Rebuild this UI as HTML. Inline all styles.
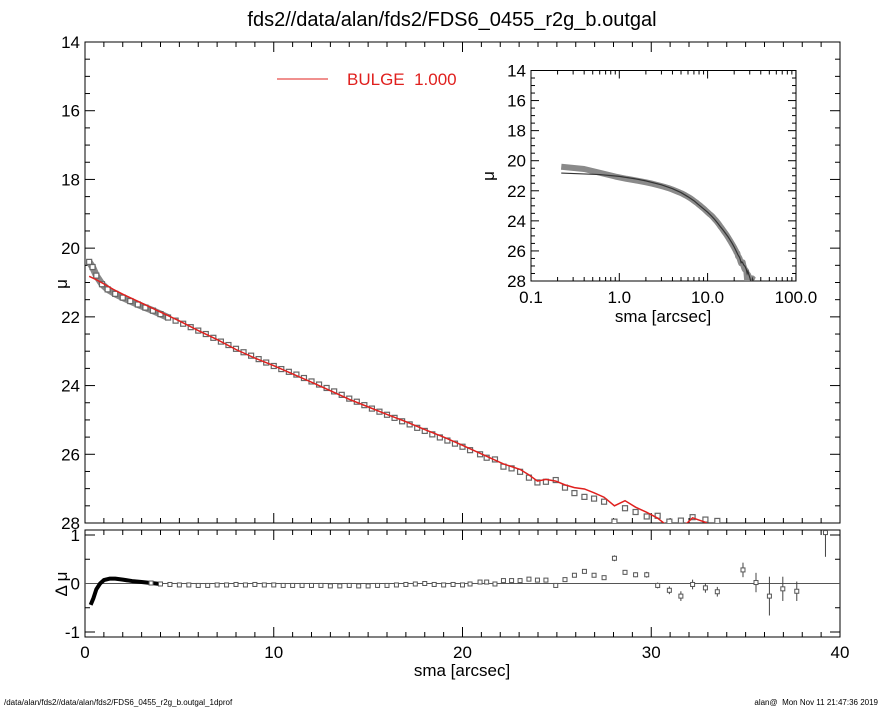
<!DOCTYPE html>
<html><head><meta charset="utf-8"><style>
body{margin:0;background:#fff;}
svg{display:block;font-family:"Liberation Sans",sans-serif;}
</style></head><body>
<svg id="c" width="885" height="708" viewBox="0 0 885 708">
<defs>
<clipPath id="mainclip"><rect x="85" y="42" width="755" height="481"/></clipPath>
<clipPath id="resclip"><rect x="85" y="530" width="755" height="107"/></clipPath>
<clipPath id="insclip"><rect x="531" y="70.5" width="265" height="210.5"/></clipPath>
</defs>
<rect width="885" height="708" fill="#fff"/>
<text x="452" y="26" font-size="20" text-anchor="middle">fds2//data/alan/fds2/FDS6_0455_r2g_b.outgal</text>
<g id="main"></g>
<g id="res"></g>
<g id="ins"></g>
<line x1="277" y1="79" x2="328" y2="79" stroke="#e0201e" stroke-width="1"/>
<text x="347" y="85" font-size="17" fill="#e0201e" style="white-space:pre">BULGE  1.000</text>
<text x="4" y="705" font-size="8">/data/alan/fds2//data/alan/fds2/FDS6_0455_r2g_b.outgal_1dprof</text>
<text x="878" y="705" font-size="8" text-anchor="end" style="white-space:pre">alan@  Mon Nov 11 21:47:36 2019</text>
</svg>
<script>
const dataX=[0.22,0.4,0.6,0.9,1.2,1.6,2.0,2.4,2.8,3.2,3.6,4.0,4.4,4.8,5.2,5.6,6.0,6.4,6.8,7.2,7.6,8.0,8.4,8.8,9.2,9.6,10.0,10.4,10.8,11.2,11.6,12.0,12.4,12.8,13.2,13.6,14.0,14.4,14.8,15.2,15.6,16.0,16.4,16.8,17.2,17.6,18.0,18.4,18.8,19.2,19.6,20.0,20.4,20.93,21.28,21.72,22.17,22.6,23.05,23.52,23.97,24.42,24.94,25.43,25.93,26.46,26.97,27.5,28.05,28.61,29.17,29.76,30.34,30.96,31.57,32.19,32.87,33.5];
const dataMu=[20.4,20.55,20.8,21.05,21.2,21.33,21.44,21.54,21.64,21.73,21.82,21.92,22.02,22.11,22.2,22.3,22.4,22.5,22.61,22.72,22.82,22.93,23.03,23.13,23.23,23.33,23.43,23.52,23.6,23.68,23.78,23.88,23.97,24.07,24.17,24.27,24.38,24.47,24.57,24.67,24.76,24.85,24.94,25.04,25.13,25.23,25.32,25.42,25.51,25.6,25.69,25.78,25.88,26.0,26.1,26.15,26.36,26.41,26.51,26.68,26.82,26.8,26.75,26.97,27.13,27.24,27.29,27.38,27.96,27.57,27.68,27.81,27.79,27.96,27.93,27.83,27.9,27.94];
const modelX=[0.22,0.6,1.0,1.5,2.0,3.0,4.0,5.0,6.0,7.0,8.0,9.0,10.0,11.0,12.0,13.0,14.0,15.0,16.0,17.0,18.0,19.0,20.0,20.93,22.17,23.05,23.52,23.97,24.42,24.94,25.43,25.93,26.46,26.97,27.5,28.05,28.61,29.17,29.76,30.34,30.8,31.6,31.9,32.19,32.87,33.2];
const modelMu=[20.82,20.92,21.04,21.2,21.34,21.6,21.86,22.12,22.4,22.66,22.95,23.2,23.42,23.66,23.9,24.15,24.4,24.62,24.84,25.05,25.28,25.5,25.74,25.97,26.28,26.44,26.6,26.78,26.73,26.78,26.89,26.97,27.01,27.12,27.25,27.5,27.35,27.54,27.69,27.86,28.06,28.06,28.0,27.85,27.98,28.1];
const resX=[0.3,0.45,0.6,0.8,1.0,1.3,1.6,2.0,2.5,3.0,3.5,4.0,4.5,5.0,5.5,6.0,6.5,7.0,7.5,8.0,8.5,9.0,9.5,10.0,10.5,11.0,11.5,12.0,12.5,13.0,13.5,14.0,14.5,15.0,15.5,16.0,16.5,17.0,17.5,18.0,18.5,19.0,19.5,20.0,20.4,20.93,21.28,21.72,22.17,22.6,23.05,23.52,23.97,24.42,24.94,25.43,25.93,26.46,26.97,27.5,28.05,28.61,29.17,29.76,30.34,30.96,31.57,32.19,32.87,33.5,34.86,35.55,36.26,36.97,37.71,39.23];
const resVal=[-0.44,-0.3,-0.12,0.0,0.07,0.1,0.1,0.08,0.05,0.03,0.01,-0.01,-0.02,-0.03,-0.03,-0.04,-0.04,-0.03,-0.03,-0.02,-0.03,-0.02,-0.03,-0.03,-0.04,-0.04,-0.04,-0.04,-0.04,-0.05,-0.05,-0.04,-0.05,-0.05,-0.04,-0.04,-0.03,-0.02,-0.01,0.0,-0.02,-0.03,-0.02,-0.03,-0.01,0.03,0.03,-0.01,0.06,0.06,0.06,0.09,0.07,0.07,-0.04,0.08,0.17,0.25,0.17,0.12,0.52,0.23,0.18,0.18,-0.04,-0.14,-0.26,-0.02,-0.09,-0.17,0.28,0.02,-0.26,-0.11,-0.16,1.05];
const resErr=[0,0,0,0,0,0,0,0,0,0,0,0,0,0,0,0,0,0,0,0,0,0,0,0,0,0,0,0,0,0,0,0,0,0,0,0,0,0,0,0,0,0,0,0,0,0,0,0,0,0,0,0,0,0,0,0,0,0,0,0,0.06,0.05,0.05,0.06,0.06,0.08,0.1,0.1,0.1,0.1,0.15,0.2,0.4,0.25,0.2,0.5];
const muTicks=[14,16,18,20,22,24,26,28];
const xTicks=[0,10,20,30,40];
const resTicks=[1,0,-1];
const insXTicks=[0.1,1.0,10.0,100.0];
const insXLabels=["0.1","1.0","10.0","100.0"];

const NS="http://www.w3.org/2000/svg";
function mk(tag,attrs,parent){const e=document.createElementNS(NS,tag);for(const k in attrs)e.setAttribute(k,attrs[k]);parent.appendChild(e);return e;}
const X=v=>85+v*755/40;
const Y=m=>42+(m-14)*481/14;
const RY=r=>583.5-r*48.5;
const IX=v=>531+(Math.log10(v)+1)*88.3;
const IY=m=>70.5+(m-14)*210.5/14;

const gm=document.getElementById('main'),gr=document.getElementById('res'),gi=document.getElementById('ins');
function frame(g,x,y,w,h,name){const r=mk('rect',{x:x,y:y,width:w,height:h,fill:'none',stroke:'#000','stroke-width':1},g);}
frame(gm,85,42,755,481,'main-plot-frame');
frame(gr,85,530,755,107,'residual-plot-frame');
frame(gi,531,70.5,265,210.5,'inset-plot-frame');

for(let v=0;v<=40;v++){const big=v%10===0,l=big?10:5;
 mk('line',{x1:X(v),y1:523,x2:X(v),y2:523-l,stroke:'#000'},gm);mk('line',{x1:X(v),y1:42,x2:X(v),y2:42+l,stroke:'#000'},gm);
 mk('line',{x1:X(v),y1:637,x2:X(v),y2:637-l,stroke:'#000'},gr);mk('line',{x1:X(v),y1:530,x2:X(v),y2:530+l,stroke:'#000'},gr);}
for(let m=14;m<=28;m+=0.5){const big=m%2===0,l=big?10:5;
 mk('line',{x1:85,y1:Y(m),x2:85+l,y2:Y(m),stroke:'#000'},gm);mk('line',{x1:840,y1:Y(m),x2:840-l,y2:Y(m),stroke:'#000'},gm);}
muTicks.forEach(m=>{const t=mk('text',{x:80,y:Y(m)+6,'font-size':17,'text-anchor':'end'},gm);t.textContent=m;
 
 });
xTicks.forEach(v=>{const t=mk('text',{x:X(v),y:658,'font-size':17,'text-anchor':'middle'},gr);t.textContent=v;
 
 });
for(let r=-1;r<=1;r+=0.5){const l=(r%1===0)?10:5;mk('line',{x1:85,y1:RY(r),x2:85+l,y2:RY(r),stroke:'#000'},gr);mk('line',{x1:840,y1:RY(r),x2:840-l,y2:RY(r),stroke:'#000'},gr);}
resTicks.forEach(r=>{const t=mk('text',{x:80,y:RY(r)+6,'font-size':17,'text-anchor':'end'},gr);t.textContent=r;
 
 });
let t=mk('text',{x:0,y:0,'font-size':17,'text-anchor':'middle',transform:'translate(67,284) rotate(-90)'},gm);t.textContent='μ';


t=mk('text',{x:0,y:0,'font-size':17,'text-anchor':'middle',transform:'translate(67,584) rotate(-90)'},gr);t.textContent='Δ μ';


t=mk('text',{x:462,y:676,'font-size':17,'text-anchor':'middle'},gr);t.textContent='sma [arcsec]';



const cm=mk('g',{'clip-path':'url(#mainclip)'},gm);
let pts=[];dataX.forEach((x,i)=>{if(x<=4.5)pts.push(X(x)+','+Y(dataMu[i]));});
let band=mk('polyline',{points:pts.join(' '),fill:'none',stroke:'#888','stroke-width':7,'stroke-linejoin':'round'},cm);


dataX.forEach((x,i)=>{const s=mk('rect',{x:X(x)-2.5,y:Y(dataMu[i])-2.5,width:5,height:5,fill:'#fff',stroke:'#666','stroke-width':1.2},cm);
 
 });
let mp=mk('polyline',{points:modelX.map((x,i)=>X(x)+','+Y(modelMu[i])).join(' '),fill:'none',stroke:'#e0201e','stroke-width':1.5},cm);



mk('line',{x1:85,y1:RY(0),x2:840,y2:RY(0),stroke:'#555','stroke-width':1},gr);
const cr=mk('g',{'clip-path':'url(#resclip)'},gr);
pts=[];resX.forEach((x,i)=>{if(x<=4)pts.push(X(x)+','+RY(resVal[i]));});
let rb=mk('polyline',{points:pts.join(' '),fill:'none',stroke:'#000','stroke-width':4,'stroke-linejoin':'round'},cr);


resX.forEach((x,i)=>{if(x<=3)return;
 if(resErr[i]>0)mk('line',{x1:X(x),y1:RY(resVal[i]-resErr[i]),x2:X(x),y2:RY(resVal[i]+resErr[i]),stroke:'#444'},cr);
 const s=mk('rect',{x:X(x)-2,y:RY(resVal[i])-2,width:4,height:4,fill:'#fff',stroke:'#555','stroke-width':1},cr);
 
 });

[0.1,1,10,100].forEach((d,k)=>{for(let j=1;j<10;j++){const v=d*j;if(v>100)break;const l=j===1?8:4;
 mk('line',{x1:IX(v),y1:281,x2:IX(v),y2:281-l,stroke:'#000'},gi);mk('line',{x1:IX(v),y1:70.5,x2:IX(v),y2:70.5+l,stroke:'#000'},gi);}});
for(let m=14;m<=28;m+=0.5){const l=m%2===0?8:4;mk('line',{x1:531,y1:IY(m),x2:531+l,y2:IY(m),stroke:'#000'},gi);mk('line',{x1:796,y1:IY(m),x2:796-l,y2:IY(m),stroke:'#000'},gi);}
muTicks.forEach(m=>{const tt=mk('text',{x:526,y:IY(m)+6,'font-size':17,'text-anchor':'end'},gi);tt.textContent=m;
 
 });
insXTicks.forEach((v,k)=>{const tt=mk('text',{x:IX(v),y:303,'font-size':17,'text-anchor':'middle'},gi);tt.textContent=insXLabels[k];
 
 });
t=mk('text',{x:0,y:0,'font-size':17,'text-anchor':'middle',transform:'translate(494,176) rotate(-90)'},gi);t.textContent='μ';


t=mk('text',{x:663,y:322,'font-size':17,'text-anchor':'middle'},gi);t.textContent='sma [arcsec]';


const ci=mk('g',{'clip-path':'url(#insclip)'},gi);
let ib=mk('polyline',{points:dataX.map((x,i)=>IX(x)+','+IY(dataMu[i])).join(' '),fill:'none',stroke:'#8a8a8a','stroke-width':6,'stroke-linejoin':'round'},ci);


let il=mk('polyline',{points:modelX.map((x,i)=>IX(x)+','+IY(modelMu[i])).join(' '),fill:'none',stroke:'#333','stroke-width':1.2},ci);


</script>
</body></html>
